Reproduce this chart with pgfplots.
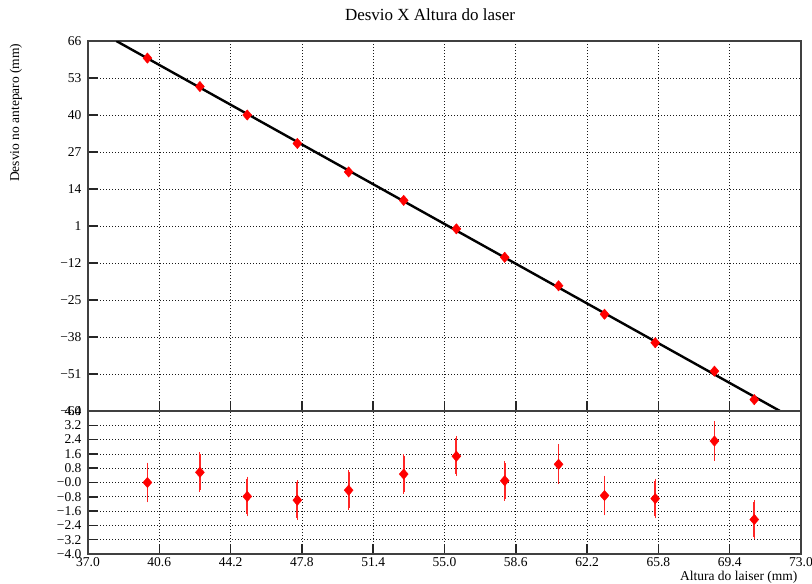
\documentclass[border=0pt]{standalone}
\usepackage{pgfplots}
\pgfplotsset{compat=1.18}
\usepackage{pgfplotstable}
\usepackage{fontspec}
\setmainfont{Liberation Serif}

% laser height (mm), deviation on the screen (mm), its error, fit residual
\pgfplotstableread{
x      y    ey  r
40.00  60   1   0.00
42.65  50   1   0.57
45.04  40   1  -0.78
47.57  30   1  -0.99
50.16  20   1  -0.43
52.94  10   1   0.47
55.60   0   1   1.47
58.04 -10   1   0.10
60.76 -20   1   1.02
63.08 -30   1  -0.73
65.64 -40   1  -0.90
68.63 -50   1   2.32
70.64 -60   1  -2.07
}\data

\pgfplotsset{
  panel/.style={
    scale only axis, width=713pt,
    xmin=37, xmax=73,
    xtick={37,40.6,44.2,47.8,51.4,55.0,58.6,62.2,65.8,69.4,73},
    grid=major,
    major grid style={black!90, dash pattern=on 1pt off 2pt, line width=0.8pt},
    axis line style={black!75, line width=1.3pt},
    tick style={black!85, line width=1.5pt},
    major tick length=10pt,
    tick align=inside, tick pos=left,
    ticklabel style={font=\fontsize{13.5}{16}\selectfont},
    yticklabel style={xshift=-3pt},
    /pgf/number format/assume math mode=true,
  },
  pts/.style={
    only marks, mark=diamond*, mark size=5.2pt, red,
    mark options={xscale=1.15},
    error bars/.cd, y dir=both, y explicit,
    error bar style={red!85!white, line width=1.8pt},
    error mark options={red!85!white, mark size=2pt, line width=1.1pt},
  },
}

\begin{document}
\begin{tikzpicture}
\useasboundingbox (0,0) rectangle (812pt,-584pt);

% upper panel: data with the straight-line fit
\begin{axis}[panel, at={(88pt,-41pt)}, anchor=north west, height=370pt,
  ymin=-64, ymax=66,
  ytick={-64,-51,-38,-25,-12,1,14,27,40,53,66},
  yticklabels={−64,−51,−38,−25,−12,1,14,27,40,53,66},
  xticklabels={}]
\addplot[pts] table[x=x, y=y, y error=ey] {\data};
\addplot[black, line width=2.4pt] coordinates {(38.43,66) (71.94,-64)};
\end{axis}

% lower panel: residuals of the fit
\begin{axis}[panel, at={(88pt,-411pt)}, anchor=north west, height=143pt,
  ymin=-4, ymax=4,
  ytick={-4,-3.2,-2.4,-1.6,-0.8,0,0.8,1.6,2.4,3.2,4},
  yticklabels={−4.0,−3.2,−2.4,−1.6,−0.8,−0.0,0.8,1.6,2.4,3.2,4.0},
  xticklabels={37.0,40.6,44.2,47.8,51.4,55.0,58.6,62.2,65.8,69.4,73.0}]
\addplot[pts] table[x=x, y=r, y error=ey] {\data};
\end{axis}

\node[font=\fontsize{17}{20}\selectfont] at (430pt,-15pt) {Desvio X Altura do laser};
\node[rotate=90, anchor=east, font=\fontsize{13.5}{16}\selectfont] at (16pt,-40pt) {Desvio no anteparo (mm)};
\node[anchor=east, font=\fontsize{13.5}{16}\selectfont] at (801pt,-577pt) {Altura do laiser (mm)};
\end{tikzpicture}
\end{document}
